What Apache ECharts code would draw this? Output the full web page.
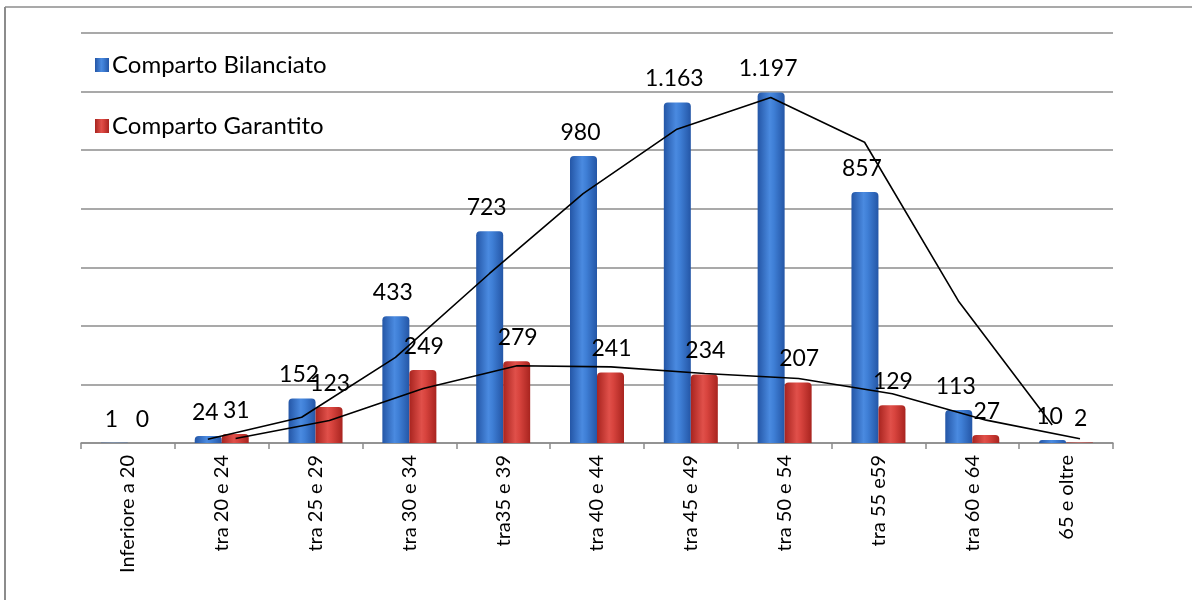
<!DOCTYPE html>
<html>
<head>
<meta charset="utf-8">
<script src="https://cdn.jsdelivr.net/npm/echarts@6/dist/echarts.min.js"></script>
<style>html,body{margin:0;padding:0;background:#fff}#c{width:1192px;height:600px}</style>
</head>
<body>
<div id="c"></div>
<script>
const categories = ['Inferiore a 20','tra 20 e 24','tra 25 e 29','tra 30 e 34','tra35 e 39','tra 40 e 44','tra 45 e 49','tra 50 e 54','tra 55 e59','tra 60 e 64','65 e oltre'];
const bilanciato = [1, 24, 152, 433, 723, 980, 1163, 1197, 857, 113, 10];
const garantito = [0, 31, 123, 249, 279, 241, 234, 207, 129, 27, 2];
const seriesNames = ['Comparto Bilanciato', 'Comparto Garantito'];

// 2-period moving average trendlines (as in the original spreadsheet chart)
function movingAvg(arr, off) {
  const out = [];
  for (let i = 1; i < arr.length; i++) out.push([i + 0.5 + off, (arr[i - 1] + arr[i]) / 2]);
  return out;
}
const fmt = v => v.toLocaleString('it-IT');
const FONT = 'Lato';

const blueGrad = new echarts.graphic.LinearGradient(0, 0, 1, 0, [
  {offset: 0, color: '#2456a6'}, {offset: 0.45, color: '#4a8ae0'}, {offset: 0.6, color: '#3f7fd6'}, {offset: 1, color: '#2456a6'}]);
const redGrad = new echarts.graphic.LinearGradient(0, 0, 1, 0, [
  {offset: 0, color: '#a8241f'}, {offset: 0.45, color: '#e0504a'}, {offset: 0.6, color: '#d8443e'}, {offset: 1, color: '#a8241f'}]);

const chart = echarts.init(document.getElementById('c'));
chart.setOption({
  animation: false,
  backgroundColor: '#fff',
  graphic: [
    {type: 'line', shape: {x1: 5, y1: 7, x2: 1192, y2: 7}, style: {stroke: '#8c8c8c', lineWidth: 1.5}},
    {type: 'line', shape: {x1: 5, y1: 7, x2: 5, y2: 600}, style: {stroke: '#8c8c8c', lineWidth: 2}}
  ],
  legend: {
    orient: 'vertical', left: 90, top: 48, itemGap: 37, itemWidth: 14, itemHeight: 14, icon: 'rect',
    data: seriesNames,
    textStyle: {fontFamily: FONT, fontSize: 24, color: '#000', padding: [0, 0, 0, -2]}
  },
  grid: {left: 81, right: 79, top: 33, bottom: 157},
  xAxis: [{
    type: 'category', data: categories,
    axisLine: {lineStyle: {color: '#8c8c8c', width: 1.5}},
    axisTick: {show: true, length: 6, lineStyle: {color: '#8c8c8c', width: 1.5}},
    axisLabel: {rotate: 90, interval: 0, fontFamily: FONT, fontSize: 20, color: '#000', margin: 12}
  }, {
    type: 'value', min: 0, max: 11, show: false
  }],
  yAxis: {
    type: 'value', min: 0, max: 1400, interval: 200,
    axisLabel: {show: false}, axisLine: {show: false}, axisTick: {show: false},
    splitLine: {lineStyle: {color: '#8c8c8c', width: 1.5}}
  },
  series: [
    {name: seriesNames[0], type: 'bar', data: bilanciato, barWidth: 27, barGap: '0%',
     itemStyle: {color: blueGrad, borderRadius: [4, 4, 0, 0]},
     label: {show: true, position: 'top', distance: 12, offset: [-3, 0], formatter: p => fmt(p.value), fontFamily: FONT, fontSize: 23, color: '#000'}},
    {name: seriesNames[1], type: 'bar', data: garantito, barWidth: 27, barGap: '0%',
     itemStyle: {color: redGrad, borderRadius: [4, 4, 0, 0]},
     label: {show: true, position: 'top', distance: 12, offset: [1, 0], formatter: p => fmt(p.value), fontFamily: FONT, fontSize: 23, color: '#000'}},
    {type: 'line', xAxisIndex: 1, data: movingAvg(bilanciato, -0.148), symbol: 'none',
     lineStyle: {color: '#000', width: 1.6}, z: 5, silent: true},
    {type: 'line', xAxisIndex: 1, data: movingAvg(garantito, 0.148), symbol: 'none',
     lineStyle: {color: '#000', width: 1.6}, z: 5, silent: true}
  ]
});
</script>
</body>
</html>
